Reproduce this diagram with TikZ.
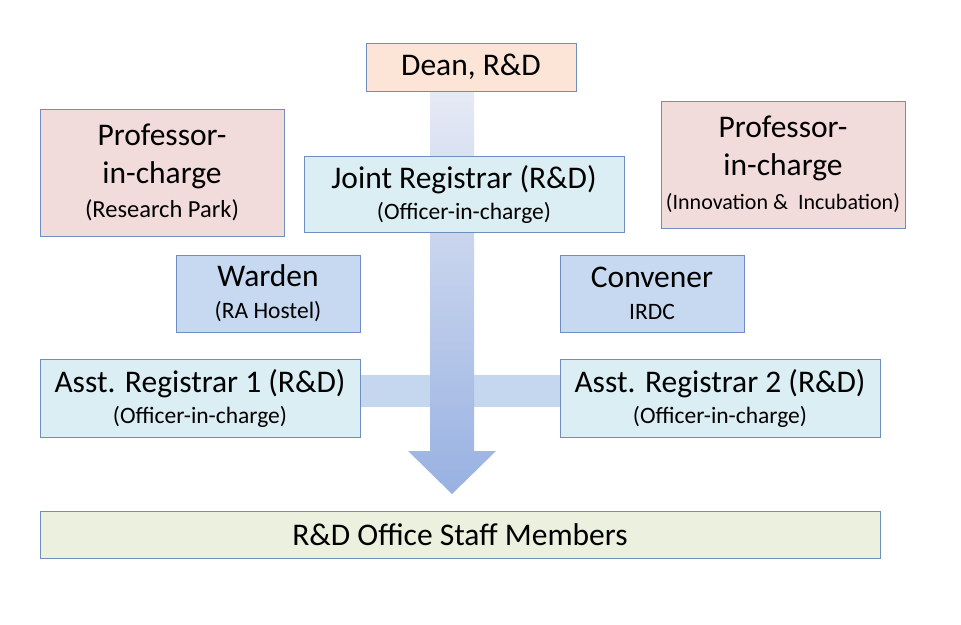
\documentclass[tikz,border=0pt]{standalone}
\usepackage{fontspec}
\setmainfont{Carlito}
\definecolor{edge}{HTML}{6F8EBF}
\definecolor{peach}{HTML}{FCE4D6}
\definecolor{rose}{HTML}{F2DCDB}
\definecolor{pale}{HTML}{DBEEF4}
\definecolor{midblue}{HTML}{C6D9F1}
\definecolor{olive}{HTML}{EBF1DE}
\definecolor{arrtop}{HTML}{E6EAF5}
\definecolor{arrbot}{HTML}{98B1E2}
\definecolor{barcol}{HTML}{C5D7EF}
\tikzset{
  box/.style={draw=edge, line width=0.8pt, inner sep=0pt, align=center, font=\fontsize{31.5}{38}\selectfont}
}
\newcommand{\subt}[2][23.5]{{\fontsize{#1}{28}\selectfont #2}}
\begin{document}
\begin{tikzpicture}[x=1pt,y=-1pt]
\useasboundingbox (0,0) rectangle (961,624);
% bar and arrow
\fill[barcol] (360,375) rectangle (560,407);
\shade[top color=arrtop, bottom color=arrbot] (430,91) -- (474,91) -- (474,451) -- (496,451) -- (452,494) -- (408,451) -- (430,451) -- cycle;
% boxes
\node[box, fill=peach, minimum width=210pt, minimum height=48pt] (dean) at (471,67) {Dean, R\&D};
\node[box, fill=pale, minimum width=320pt, minimum height=76pt] (joint) at (464,194) {Joint Registrar (R\&D)\\[-7pt]\subt{(Officer-in-charge)}};
\node[box, fill=rose, minimum width=244pt, minimum height=127pt] (profl) at (162,172.5) {Professor-\\in-charge\\[-4pt]\subt[24.5]{(Research Park)}};
\node[box, fill=rose, minimum width=244pt, minimum height=127pt] (profr) at (783,164.5) {Professor-\\in-charge\\[-4pt]\subt[22]{(Innovation \&\ \ Incubation)}};
\node[box, fill=midblue, minimum width=184pt, minimum height=77pt] (warden) at (268,293.5) {Warden\\[-6pt]\subt{(RA Hostel)}};
\node[box, fill=midblue, minimum width=184pt, minimum height=77pt] (conv) at (652,293.5) {Convener\\[-6pt]\subt{IRDC}};
\node[box, fill=pale, minimum width=320pt, minimum height=78pt] (ar1) at (200,398) {Asst. Registrar 1 (R\&D)\\[-7pt]\subt{(Officer-in-charge)}};
\node[box, fill=pale, minimum width=320pt, minimum height=78pt] (ar2) at (720,398) {Asst. Registrar 2 (R\&D)\\[-7pt]\subt{(Officer-in-charge)}};
\node[box, fill=olive, minimum width=840pt, minimum height=47pt] (staff) at (460,534.5) {R\&D Office Staff Members};
\end{tikzpicture}
\end{document}
